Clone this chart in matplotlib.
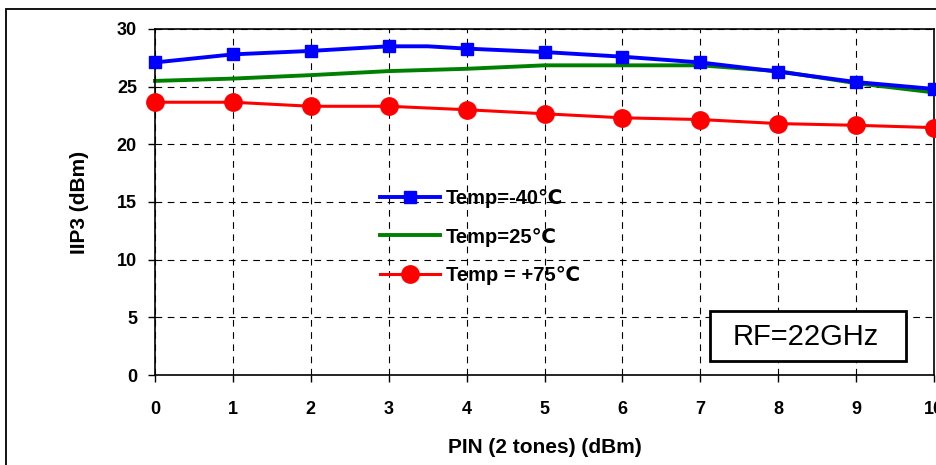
import matplotlib.pyplot as plt
from matplotlib.patches import Rectangle

# PIN values and IIP3 readings for each temperature
pin = [0, 1, 2, 3, 3.5, 4, 5, 6, 7, 8, 9, 10]
iip3_m40 = [27.1, 27.8, 28.1, 28.5, 28.5, 28.3, 28.0, 27.6, 27.1, 26.3, 25.4, 24.8]
pin_25 = [0, 1, 2, 3, 4, 5, 6, 7, 8, 9, 10]
iip3_25 = [25.5, 25.7, 26.0, 26.35, 26.55, 26.85, 26.85, 26.85, 26.35, 25.3, 24.5]
iip3_75 = [23.65, 23.65, 23.3, 23.3, 23.0, 22.65, 22.3, 22.15, 21.8, 21.65, 21.45]

xticks = list(range(0, 11))
yticks = list(range(0, 31, 5))

plt.rcParams['font.family'] = ['Liberation Sans', 'DejaVu Sans']

fig = plt.figure(figsize=(9.37, 4.65), dpi=100)
ax = fig.add_axes([155 / 937, 1 - 375 / 465, (934 - 155) / 937, (375 - 29) / 465])

# outer chart-area border
fig.patches.append(Rectangle((6 / 937, -0.2), 1.2, 1 - 9 / 465 + 0.2,
                             transform=fig.transFigure, fill=False,
                             edgecolor='black', linewidth=1.3, zorder=0))

# skip the marker on the extra 3.5 point
marks = [i for i, p in enumerate(pin) if p != 3.5]
ax.plot(pin, iip3_m40, color='#0000FF', lw=2.8, marker='s', ms=8.5,
        markevery=marks, label='Temp=-40\u2103', clip_on=False, zorder=3)
ax.plot(pin_25, iip3_25, color='#008000', lw=2.8, label='Temp=25\u2103',
        clip_on=False, zorder=2)
ax.plot(pin_25, iip3_75, color='#FF0000', lw=2.2, marker='o', ms=12.5,
        label='Temp = +75\u2103', clip_on=False, zorder=4)

ax.set_xlim(0, 10)
ax.set_ylim(0, 30)
ax.set_xticks(xticks)
ax.set_yticks(yticks)
ax.grid(True, color='black', linestyle=(0, (6, 5)), linewidth=0.8)
ax.tick_params(direction='out', length=5, width=1, labelsize=13)
ax.tick_params(axis='x', pad=14)
ax.tick_params(axis='y', pad=8)
for lab in ax.get_xticklabels() + ax.get_yticklabels():
    lab.set_fontweight('bold')
for s in ax.spines.values():
    s.set_linewidth(1.2)

ax.set_xlabel('PIN (2 tones) (dBm)', fontsize=15, fontweight='bold', labelpad=14)
ax.set_ylabel('IIP3 (dBm)', fontsize=15, fontweight='bold', labelpad=20)

ax.legend(loc='upper left', bbox_to_anchor=(0.265, 0.59), frameon=False,
          prop={'weight': 'bold', 'size': 14.5}, handlelength=3.0,
          labelspacing=0.97, handletextpad=0.3)

# RF annotation box
ax.add_patch(Rectangle((555 / 779, 14 / 346), 196 / 779, 50 / 346,
                       transform=ax.transAxes, facecolor='white',
                       edgecolor='black', linewidth=2, zorder=5))
ax.text(651 / 779, 38 / 346, 'RF=22GHz', transform=ax.transAxes, fontsize=21,
        ha='center', va='center', zorder=6)

fig.savefig('out.png', dpi=100)
